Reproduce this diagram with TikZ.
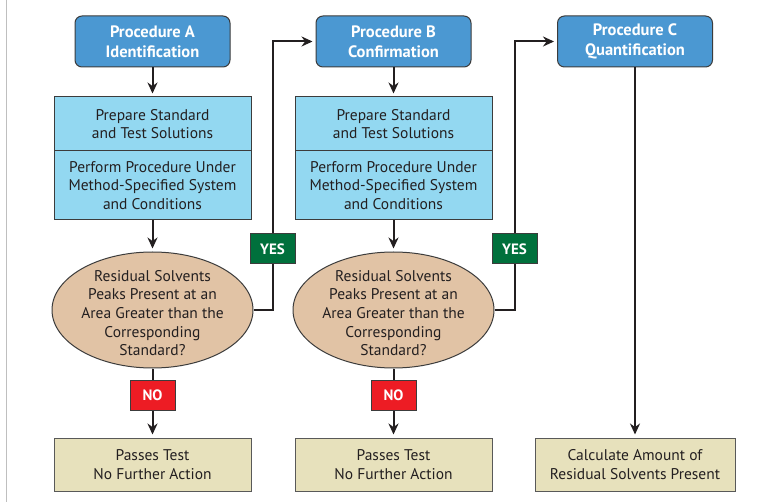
\documentclass[tikz,border=0pt]{standalone}
\usepackage{fontspec}
\setmainfont{PT Sans}
\usetikzlibrary{arrows.meta,shapes.geometric}
\definecolor{procblue}{RGB}{75,152,210}
\definecolor{stepcyan}{RGB}{147,216,241}
\definecolor{dectan}{RGB}{225,195,165}
\definecolor{endbeige}{RGB}{231,225,188}
\definecolor{yesgreen}{RGB}{0,112,60}
\definecolor{nored}{RGB}{237,28,36}
\definecolor{ink}{RGB}{35,31,32}
\definecolor{edgegray}{RGB}{60,60,60}
\tikzset{
  txt/.style={font=\fontsize{15.5}{18.7}\selectfont, text=ink, align=center},
  procbox/.style={draw=edgegray, line width=1pt, fill=procblue, rounded corners=7pt,
    minimum width=155pt, minimum height=51pt, inner sep=0pt, align=center,
    text=white, font=\fontsize{16.5}{20}\selectfont\bfseries},
  stepbox/.style={txt, draw=edgegray, line width=1pt, fill=stepcyan,
    minimum width=197pt, inner sep=0pt},
  decision/.style={ellipse, draw=edgegray, line width=1pt, fill=dectan,
    minimum width=201pt, minimum height=116pt, inner sep=0pt},
  endbox/.style={txt, draw=gray!70!black, line width=1pt, fill=endbeige,
    minimum height=53pt, inner sep=0pt},
  tagbox/.style={draw=edgegray, line width=1pt, minimum width=45pt, minimum height=30pt,
    inner sep=0pt, text=white, font=\fontsize{15}{18}\selectfont\bfseries},
  conn/.style={draw=ink, line width=2pt},
  arr/.style={conn, -{Stealth[length=11pt,width=10pt]}, shorten >=3pt},
  dectext/.style={txt, yshift=-3pt},
}
\begin{document}
\begin{tikzpicture}[x=1pt,y=-1pt]
\useasboundingbox (0,0) rectangle (773,502);
\fill[white] (0,0) rectangle (773,502);
\draw[color=black!25, line width=1.5pt] (6.5,0) -- (6.5,502);

% Column A
\node[procbox] (procA) at (152.5,41.5) {Procedure A\\Identification};
\node[stepbox, minimum height=54pt] (prepA) at (152.5,124) {Prepare Standard\\and Test Solutions};
\node[stepbox, minimum height=69pt] (perfA) at (152.5,185.5) {Perform Procedure Under\\Method-Specified System\\and Conditions};
\node[decision, label={[dectext]center:{Residual Solvents\\Peaks Present at an\\Area Greater than the\\Corresponding\\Standard?}}] (decA) at (152.5,310) {};
\node[tagbox, fill=nored] (noA) at (152.5,395.5) {NO};
\node[endbox, minimum width=197pt] (passA) at (152.5,464.5) {Passes Test\\No Further Action};
\node[tagbox, fill=yesgreen] (yesA) at (272.5,249) {YES};

% Column B
\node[procbox] (procB) at (393.5,41.5) {Procedure B\\Confirmation};
\node[stepbox, minimum height=54pt] (prepB) at (393.5,124) {Prepare Standard\\and Test Solutions};
\node[stepbox, minimum height=69pt] (perfB) at (393.5,185.5) {Perform Procedure Under\\Method-Specified System\\and Conditions};
\node[decision, label={[dectext]center:{Residual Solvents\\Peaks Present at an\\Area Greater than the\\Corresponding\\Standard?}}] (decB) at (393.5,310) {};
\node[tagbox, fill=nored] (noB) at (393.5,395.5) {NO};
\node[endbox, minimum width=197pt] (passB) at (393.5,464.5) {Passes Test\\No Further Action};
\node[tagbox, fill=yesgreen] (yesB) at (514.5,249) {YES};

% Column C
\node[procbox] (procC) at (635,41.5) {Procedure C\\Quantification};
\node[endbox, minimum width=200pt] (calc) at (635,464.5) {Calculate Amount of\\Residual Solvents Present};

% Connectors
\draw[arr] (procA.south) -- (prepA.north);
\draw[arr] (perfA.south) -- (decA.north);
\draw[conn] (decA.south) -- (noA.north);
\draw[arr] (noA.south) -- (passA.north);
\draw[conn] (decA.east) -| (yesA.south);
\draw[arr] (yesA.north) |- (procB.west);

\draw[arr] (procB.south) -- (prepB.north);
\draw[arr] (perfB.south) -- (decB.north);
\draw[conn] (decB.south) -- (noB.north);
\draw[arr] (noB.south) -- (passB.north);
\draw[conn] (decB.east) -| (yesB.south);
\draw[arr] (yesB.north) |- (procC.west);

\draw[arr] (procC.south) -- (calc.north);
\end{tikzpicture}
\end{document}
